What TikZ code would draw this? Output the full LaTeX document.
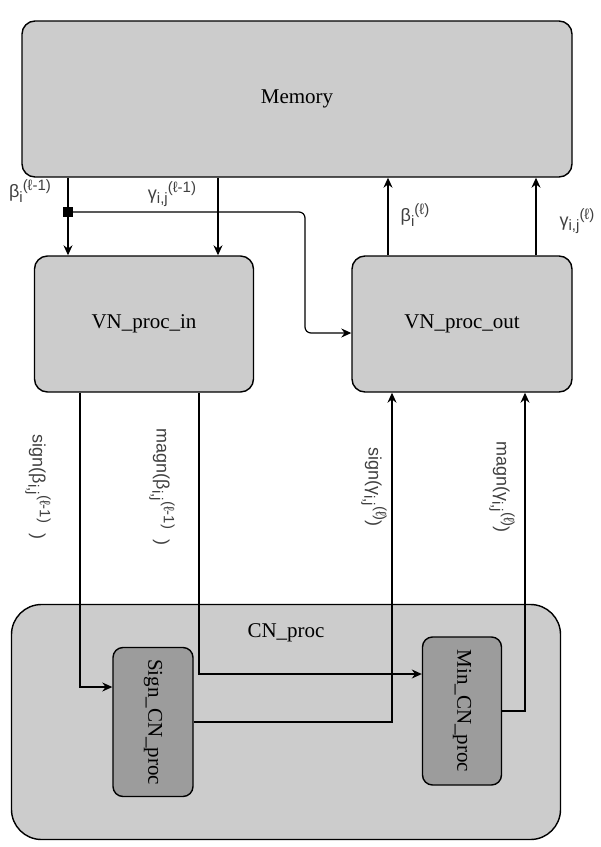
\documentclass[tikz,border=0pt]{standalone}
\usepackage{fontspec}
\setmainfont{Liberation Serif}
\newfontfamily\labelfont{Liberation Sans}
\usepackage{graphicx}
\usepackage{tikz}
\usetikzlibrary{arrows.meta}
\usetikzlibrary{positioning}

\definecolor{boxgray}{HTML}{CCCCCC}
\definecolor{procgray}{HTML}{9C9C9C}
\definecolor{labelgray}{HTML}{404040}

% index and exponent of the signal labels
\newcommand{\sublbl}[1]{\raisebox{-0.45ex}{\fontsize{15}{16}\selectfont #1}}
\newcommand{\suplbl}[1]{\raisebox{0.75ex}{\fontsize{15}{16}\selectfont #1}}

\begin{document}
\begin{tikzpicture}[x=1pt, y=-1pt,
    block/.style = {draw, line width=1.4pt, fill=boxgray, rounded corners=13pt,
                    font=\fontsize{21}{24}\selectfont},
    subblock/.style = {block, fill=procgray, rounded corners=10pt},
    sig/.style = {font=\labelfont\fontsize{18}{20}\selectfont, text=labelgray, inner sep=1pt},
    link/.style = {line width=1.2pt, -{Stealth[length=10pt, width=9pt]}}]

      \useasboundingbox (0,0) rectangle (601,847);

      % blocks
      \node[block, minimum width=550, minimum height=156] (memory) at (297,99) {Memory};
      \node[block, minimum width=219, minimum height=136] (vnin) at (144,324) {VN\_proc\_in};
      \node[block, minimum width=220, minimum height=136] (vnout) at (462,324) {VN\_proc\_out};
      \node[block, rounded corners=30pt, minimum width=549, minimum height=235] (cn) at (286,722) {};
      \node[font=\fontsize{21}{24}\selectfont] (cntext) at (286,633) {CN\_proc};
      \node[subblock, minimum width=80, minimum height=149] (sign) at (153,722)
            {\rotatebox{-90}{Sign\_CN\_proc}};
      \node[subblock, minimum width=79, minimum height=148] (minp) at (462,711)
            {\rotatebox{-90}{Min\_CN\_proc}};

      % where the wires run
      \coordinate (bcol) at (68,0);
      \coordinate (gcol) at (218,0);
      \coordinate (boutcol) at (388,0);
      \coordinate (goutcol) at (536,0);
      \coordinate (sgncol) at (80,0);
      \coordinate (magcol) at (199,0);
      \coordinate (sgnoutcol) at (392,0);
      \coordinate (magoutcol) at (525,0);
      \coordinate (turn) at (305,333);
      \coordinate (sgnrow) at (0,687);
      \coordinate (magrow) at (0,674);

      \node[fill, minimum size=10, inner sep=0pt] (tap) at (68,212) {};

      % wires
      \draw[link] (memory.south -| bcol) -- (vnin.north -| bcol);
      \draw[link] (memory.south -| gcol) -- (vnin.north -| gcol);
      \draw[link, rounded corners=6pt] (tap.east) -| (turn) -- (vnout.west |- turn);
      \draw[link] (vnout.north -| boutcol) -- (memory.south -| boutcol);
      \draw[link] (vnout.north -| goutcol) -- (memory.south -| goutcol);
      \draw[link] (vnin.south -| sgncol) |- (sign.west |- sgnrow);
      \draw[link] (vnin.south -| magcol) |- (minp.west |- magrow);
      \draw[link] (sign.east) -| (vnout.south -| sgnoutcol);
      \draw[link] (minp.east) -| (vnout.south -| magoutcol);

      % labels
      \node[sig] (lbin) at (30,191) {β\sublbl{i}\suplbl{(ℓ-1)}};
      \node[sig] (lgin) at (172,194) {γ\sublbl{i,j}\suplbl{(ℓ-1)}};
      \node[sig] (lbout) at (415,215) {β\sublbl{i}\suplbl{(ℓ)}};
      \node[sig] (lgout) at (577,221) {γ\sublbl{i,j}\suplbl{(ℓ)}};
      \node[sig, rotate=-90] (lsgnin) at (38,487) {sign(β\sublbl{i,j}\suplbl{(ℓ-1)}\ \ )};
      \node[sig, rotate=-90] (lmagin) at (162,487) {magn(β\sublbl{i,j}\suplbl{(ℓ-1)}\ \ )};
      \node[sig, rotate=-90, fill=white] (lsgnout) at (374,487) {sign(γ\sublbl{i,j}\suplbl{(ℓ)})};
      \node[sig, rotate=-90] (lmagout) at (502,487) {magn(γ\sublbl{i,j}\suplbl{(ℓ)})};
\end{tikzpicture}
\end{document}
